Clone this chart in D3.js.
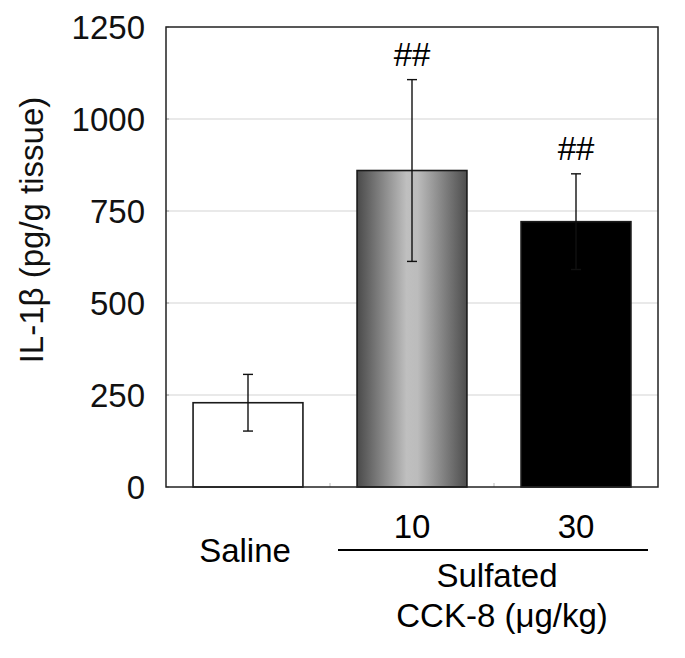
<!DOCTYPE html>
<html><head><meta charset="utf-8">
<script src="https://d3js.org/d3.v7.min.js"></script>
<style>body{margin:0;background:#fff}</style>
</head><body>
<svg id="c" width="685" height="658"></svg>
<script>
const categories = ["Saline", "10", "30"];
const means = [229, 860, 721];
const errors = [77, 247, 130];
const marks = ["", "##", "##"];
const yTicks = [0, 250, 500, 750, 1000, 1250];

const svg = d3.select("#c");
const font = "Arial, 'Liberation Sans', sans-serif";
const FS = 33;
const m = {l:166, r:658, t:27, b:487};
const x = d3.scaleBand().domain(categories).range([m.l, m.r]).paddingInner(0.33).paddingOuter(0.165);
const y = d3.scaleLinear().domain([0, 1250]).range([m.b, m.t]);

const defs = svg.append("defs");
const g = defs.append("linearGradient").attr("id","grad").attr("x1","0").attr("x2","1").attr("y1","0").attr("y2","0");
[[0,"#4a4a4a"],[0.45,"#bfbfbf"],[0.55,"#bcbcbc"],[1,"#4d4d4d"]].forEach(s=>g.append("stop").attr("offset",s[0]).attr("stop-color",s[1]));
const fills = ["#fff", "url(#grad)", "#000"];

// gridlines
svg.append("g").selectAll("line").data(yTicks.filter(t=>t>0 && t<1250)).join("line")
  .attr("x1", m.l).attr("x2", m.r).attr("y1", d=>y(d)).attr("y2", d=>y(d))
  .attr("stroke", "#d4d4d4").attr("stroke-width", 1.2);

// y ticks small
svg.append("g").selectAll("line").data(yTicks).join("line")
  .attr("x1", m.l).attr("x2", m.l+3).attr("y1", d=>y(d)).attr("y2", d=>y(d))
  .attr("stroke", "#999").attr("stroke-width", 1);

// category separators ticks at bottom
const step = x.step();
svg.append("g").selectAll("line").data(categories.slice(1)).join("line")
  .attr("x1", d=>x(d)-x.paddingInner()*step/2).attr("x2", d=>x(d)-x.paddingInner()*step/2)
  .attr("y1", m.b).attr("y2", m.b-4).attr("stroke", "#bbb").attr("stroke-width", 1);

// bars
svg.append("g").selectAll("rect").data(categories).join("rect")
  .attr("x", d=>x(d)).attr("width", x.bandwidth())
  .attr("y", (d,i)=>y(means[i])).attr("height", (d,i)=>y(0)-y(means[i]))
  .attr("fill", (d,i)=>fills[i]).attr("stroke", "#1a1a1a").attr("stroke-width", 1.6);

// error bars
const eb = svg.append("g").attr("stroke", "#111").attr("stroke-width", 1.4);
categories.forEach((c,i)=>{
  const cx = x(c) + x.bandwidth()/2;
  eb.append("line").attr("x1",cx).attr("x2",cx).attr("y1",y(means[i]+errors[i])).attr("y2",y(means[i]-errors[i]));
  [means[i]+errors[i], means[i]-errors[i]].forEach(v=>{
    eb.append("line").attr("x1",cx-5).attr("x2",cx+5).attr("y1",y(v)).attr("y2",y(v));
  });
  if (marks[i]) {
    svg.append("text").attr("x", cx).attr("y", y(means[i]+errors[i]) - 14)
      .attr("text-anchor","middle").attr("font-family",font).attr("font-size",FS).text(marks[i]);
  }
});

// frame
svg.append("rect").attr("x", m.l).attr("y", m.t).attr("width", m.r-m.l).attr("height", m.b-m.t)
  .attr("fill","none").attr("stroke","#222").attr("stroke-width",1.5);

// y tick labels
svg.append("g").selectAll("text").data(yTicks).join("text")
  .attr("x", m.l-21).attr("y", d=>y(d)).attr("dy","0.36em")
  .attr("text-anchor","end").attr("font-family",font).attr("font-size",FS).attr("fill","#111")
  .text(d=>d);

// y label
svg.append("text").attr("transform",`translate(43,230) rotate(-90)`)
  .attr("text-anchor","middle").attr("font-family",font).attr("font-size",FS).attr("fill","#111")
  .text("IL-1β (pg/g tissue)");

// x labels
const cxOf = c => x(c)+x.bandwidth()/2;
svg.append("text").attr("x", cxOf("Saline")-3).attr("y", 562).attr("text-anchor","middle")
  .attr("font-family",font).attr("font-size",FS).text("Saline");
["10","30"].forEach(c=>{
  svg.append("text").attr("x", cxOf(c)).attr("y", 538).attr("text-anchor","middle")
    .attr("font-family",font).attr("font-size",FS).text(c);
});
svg.append("line").attr("x1", 338).attr("x2", 648).attr("y1", 550).attr("y2", 550)
  .attr("stroke","#000").attr("stroke-width",1.8);
svg.append("text").attr("x", 497).attr("y", 587).attr("text-anchor","middle")
  .attr("font-family",font).attr("font-size",FS).text("Sulfated");
svg.append("text").attr("x", 502).attr("y", 627).attr("text-anchor","middle")
  .attr("font-family",font).attr("font-size",FS).text("CCK-8 (μg/kg)");
</script>
</body></html>
